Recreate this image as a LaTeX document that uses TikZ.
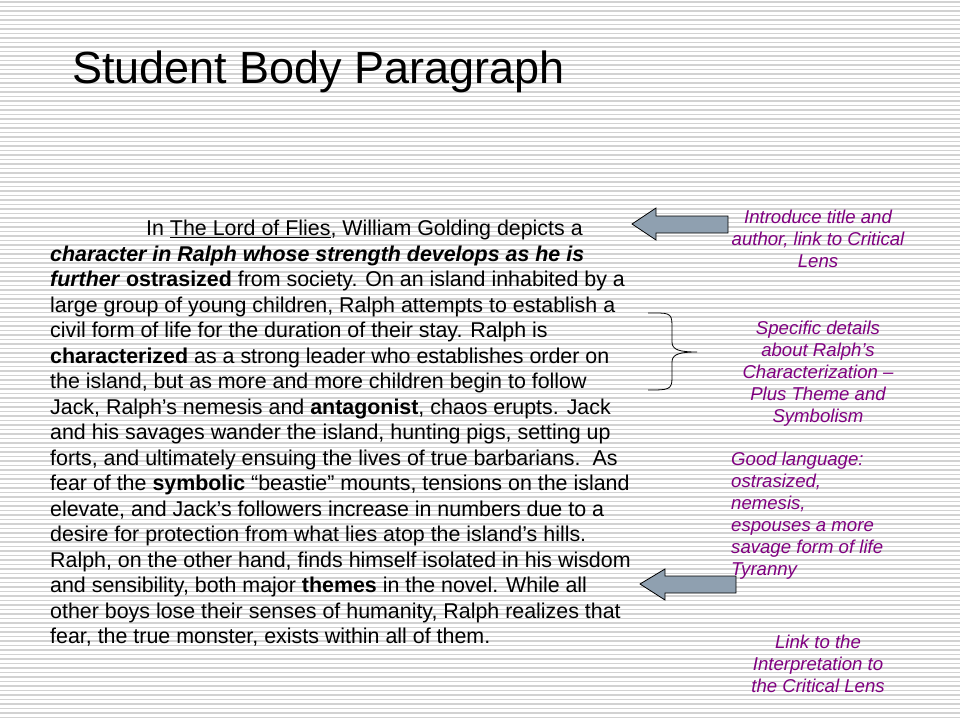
\documentclass[tikz,border=0pt]{standalone}
\usepackage{fontspec}
\setmainfont{Liberation Sans}
\definecolor{notepurple}{RGB}{128,0,128}
\definecolor{arrowgray}{RGB}{143,160,176}
\tikzset{
  note/.style={text=notepurple, font=\fontsize{18.6}{22}\selectfont\itshape, align=center, inner sep=0pt},
  blockarrow/.style={draw=black, fill=arrowgray, line width=0.8pt}
}
\begin{document}
\begin{tikzpicture}[x=1pt,y=-1pt]
\useasboundingbox (0,0) rectangle (960,720);
\fill[white] (0,0) rectangle (960,720);
\foreach \y in {2,6.5,...,720} \draw[gray!35, line width=1.2pt] (0,\y) -- (960,\y);
\node[anchor=west, font=\fontsize{45}{50}\selectfont, inner sep=0pt] (title) at (72,72) {Student Body Paragraph};
\node[anchor=north west, align=left, inner sep=0pt, font=\fontsize{21.4}{25.5}\selectfont] (body) at (50,220) {%
\hspace*{96pt}In \underline{The Lord of Flies}, William Golding depicts a\\
\textbf{\textit{character in Ralph whose strength develops as he is}}\\
\textbf{\textit{further}} \textbf{ostrasized} from society. On an island inhabited by a\\
large group of young children, Ralph attempts to establish a\\
civil form of life for the duration of their stay. Ralph is\\
\textbf{characterized} as a strong leader who establishes order on\\
the island, but as more and more children begin to follow\\
Jack, Ralph’s nemesis and \textbf{antagonist}, chaos erupts. Jack\\
and his savages wander the island, hunting pigs, setting up\\
forts, and ultimately ensuing the lives of true barbarians.\ \ As\\
fear of the \textbf{symbolic} “beastie” mounts, tensions on the island\\
elevate, and Jack’s followers increase in numbers due to a\\
desire for protection from what lies atop the island’s hills.\\
Ralph, on the other hand, finds himself isolated in his wisdom\\
and sensibility, both major \textbf{themes} in the novel. While all\\
other boys lose their senses of humanity, Ralph realizes that\\
fear, the true monster, exists within all of them.};
% notes
\node[note] (intro) at (818,239) {Introduce title and\\author, link to Critical\\Lens};
\node[note] (details) at (818,374) {Specific details\\about Ralph’s\\Characterization –\\Plus Theme and\\Symbolism};
\node[note, align=left, anchor=north west] (lang) at (731,452) {Good language:\\ostrasized,\\nemesis,\\espouses a more\\savage form of life\\Tyranny};
\node[note] (link) at (818,664) {Link to the\\Interpretation to\\the Critical Lens};
% arrows
\draw[blockarrow] (632,224) -- (656,208) -- (656,216) -- (728,216) -- (728,233) -- (656,233) -- (656,240) -- cycle;
\draw[blockarrow] (640,584) -- (665,569) -- (665,576) -- (736,576) -- (736,593) -- (665,593) -- (665,600) -- cycle;
% brace
\draw[line width=0.8pt] (648,313) .. controls (668,313) and (672,312) .. (672,325) -- (672,342) .. controls (672,350) and (680,352) .. (697,352) .. controls (680,352) and (672,354) .. (672,362) -- (672,378) .. controls (672,390) and (668,390) .. (648,390);
\end{tikzpicture}
\end{document}
